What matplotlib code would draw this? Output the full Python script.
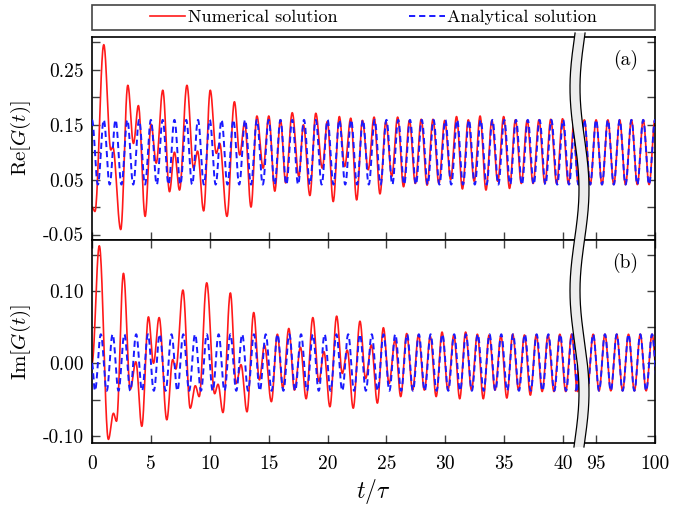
import numpy as np
import matplotlib
matplotlib.use("Agg")
import matplotlib.pyplot as plt
from matplotlib.lines import Line2D
from matplotlib.patches import Polygon, Rectangle

plt.rcParams["font.family"] = "serif"
plt.rcParams["font.serif"] = ["cmr10", "DejaVu Serif"]
plt.rcParams["mathtext.fontset"] = "cm"
plt.rcParams["axes.unicode_minus"] = False
plt.rcParams["axes.formatter.use_mathtext"] = True

# ---- data: extrema (t, value) of each curve ----
num_re_t = [0.0, 0.25, 1.0, 1.6, 1.76, 2.44, 3.04, 3.52, 3.94, 4.51, 5.02, 5.45,
            6.01, 6.58, 7.0, 7.43, 8.06, 8.62, 8.96, 9.48, 10.04, 10.55, 10.84,
            11.46, 12.09, 12.54, 12.96, 13.5, 14.0, 14.53, 15.01, 15.52, 16.0,
            16.45, 17.0, 17.56, 17.95, 18.5, 19.0, 19.55, 19.98, 20.48, 21.0,
            21.45, 21.97, 22.47, 22.96, 23.45, 23.95, 24.45, 24.95, 25.45, 25.95,
            26.45, 26.95, 27.45, 27.95, 28.45, 28.95, 29.45, 29.95, 30.45, 30.95,
            31.45, 31.95, 32.45, 32.95, 33.45, 33.95, 34.45, 34.95, 35.45, 35.95,
            36.45, 36.95, 37.45, 37.95, 38.45, 38.95, 39.45, 39.95, 40.45, 40.95,
            41.45, 41.95]
num_re_v = [0.000, -0.008, 0.296, 0.104, 0.110, -0.041, 0.222, 0.116, 0.185, -0.017,
            0.151, 0.080, 0.213, 0.028, 0.100, 0.031, 0.222, 0.071, 0.102, -0.007,
            0.213, 0.098, 0.116, -0.017, 0.192, 0.095, 0.154, 0.000, 0.166, 0.071,
            0.166, 0.029, 0.159, 0.044, 0.172, 0.056, 0.150, 0.021, 0.171, 0.071,
            0.156, 0.010, 0.165, 0.074, 0.162, 0.013, 0.158, 0.068, 0.164, 0.024,
            0.156, 0.056, 0.164, 0.037, 0.158, 0.043, 0.160, 0.040, 0.160, 0.043,
            0.158, 0.050, 0.165, 0.033, 0.159, 0.047, 0.166, 0.031, 0.158, 0.047,
            0.165, 0.034, 0.159, 0.043, 0.158, 0.043, 0.159, 0.043, 0.160, 0.043,
            0.161, 0.043, 0.159, 0.042, 0.159]

num_im_t = [0.0, 0.62, 1.39, 1.82, 2.08, 2.67, 3.25, 3.72, 4.23, 4.79, 5.22, 5.70,
            6.35, 6.85, 7.12, 7.72, 8.34, 8.77, 9.10, 9.74, 10.41, 10.70, 11.12,
            11.75, 12.24, 12.65, 13.16, 13.73, 14.21, 14.64, 15.23, 15.74, 16.20,
            16.71, 17.19, 17.70, 18.18, 18.75, 19.26, 19.69, 20.20, 20.77, 21.25,
            21.67, 22.18, 22.75, 23.23, 23.72, 24.23, 24.74, 25.22, 25.73, 26.21,
            26.72, 27.22, 27.72, 28.22, 28.72, 29.22, 29.72, 30.22, 30.72, 31.22,
            31.72, 32.22, 32.72, 33.22, 33.72, 34.22, 34.72, 35.22, 35.72, 36.22,
            36.72, 37.22, 37.72, 38.22, 38.72, 39.22, 39.72, 40.22, 40.72, 41.22,
            41.72]
num_im_v = [0.000, 0.162, -0.105, -0.069, -0.080, 0.124, -0.036, 0.002, -0.087, 0.064,
            0.000, 0.063, -0.078, 0.005, -0.008, 0.101, -0.062, -0.031, -0.046, 0.111,
            -0.042, -0.029, -0.068, 0.097, -0.028, -0.002, -0.067, 0.070, -0.023, 0.025,
            -0.053, 0.040, -0.034, 0.048, -0.037, 0.022, -0.049, 0.063, -0.025, 0.016,
            -0.060, 0.065, -0.014, 0.018, -0.062, 0.058, -0.021, 0.025, -0.055, 0.049,
            -0.028, 0.032, -0.046, 0.041, -0.037, 0.039, -0.037, 0.037, -0.046, 0.043,
            -0.037, 0.039, -0.049, 0.043, -0.037, 0.040, -0.049, 0.039, -0.037, 0.038,
            -0.048, 0.040, -0.037, 0.039, -0.044, 0.039, -0.039, 0.039, -0.039, 0.040,
            -0.039, 0.040, -0.039, 0.040]

# analytical solution: peak / trough levels, extrema every half period (period 1)
ana_re_hi, ana_re_lo = 0.159, 0.041
ana_im_hi, ana_im_lo = 0.040, -0.038
t_left_end = 42.0
t_right = (93.0, 100.5)

x_ticks_t = [0, 5, 10, 15, 20, 25, 30, 35, 40, 95, 100]
x_tick_labels = ["0", "5", "10", "15", "20", "25", "30", "35", "40", "95", "100"]
re_ticks = [-0.05, 0.0, 0.05, 0.10, 0.15, 0.20, 0.25, 0.30]
re_tick_labels = ["-0.05", "", "0.05", "", "0.15", "", "0.25", ""]
im_ticks = [-0.10, -0.05, 0.0, 0.05, 0.10, 0.15]
im_tick_labels = ["-0.10", "", "0.00", "", "0.10", ""]

SHIFT = 52.2     # t on the right part -> axis position
T_CUT = 41.6     # left part ends under the break band


def smooth(tk, vk, n=24):
    tk, vk = np.asarray(tk, float), np.asarray(vk, float)
    s = np.linspace(0, 1, n, endpoint=False)
    ts = (tk[:-1, None] + np.diff(tk)[:, None] * s).ravel()
    vs = (vk[:-1, None] + np.diff(vk)[:, None] * (1 - np.cos(np.pi * s)) / 2).ravel()
    return np.append(ts, tk[-1]), np.append(vs, vk[-1])


def ana_re(t0, t1):
    tk = np.arange(t0, t1 + 1e-9, 0.5)
    vk = np.where(np.isclose(tk % 1, 0), ana_re_hi, ana_re_lo)
    return smooth(tk, vk)


def ana_im(t0, t1):
    tk = np.arange(t0 + 0.25, t1 + 1e-9, 0.5)
    vk = np.where(np.isclose(tk % 1, 0.75), ana_im_hi, ana_im_lo)
    if t0 == 0:
        tk, vk = np.insert(tk, 0, 0.0), np.insert(vk, 0, 0.0)
    return smooth(tk, vk)


W, H = 685, 513


def px_box(l, t, r, b):
    return [l / W, 1 - b / H, (r - l) / W, (b - t) / H]


fig = plt.figure(figsize=(6.85, 5.13), dpi=100)
ax1 = fig.add_axes(px_box(92, 37, 655, 240))
ax2 = fig.add_axes(px_box(92, 240, 655, 443))

red = dict(color="#ff1a1a", lw=1.2, zorder=2)
blue = dict(color="#1a1aff", lw=1.4, dashes=(3.2, 2.0), zorder=3)

panels = [
    (ax1, (num_re_t, num_re_v), ana_re, re_ticks, re_tick_labels, (-0.06, 0.31),
     r"$\mathrm{Re}[G(t)]$", "(a)"),
    (ax2, (num_im_t, num_im_v), ana_im, im_ticks, im_tick_labels, (-0.11, 0.17),
     r"$\mathrm{Im}[G(t)]$", "(b)"),
]

for ax, (nt, nv), ana, yt, ytl, ylim, ylab, tag in panels:
    t, v = smooth(nt, nv)
    keep = t <= T_CUT
    ax.plot(t[keep], v[keep], **red)
    ta, va = ana(0, t_left_end)
    keep = ta <= T_CUT
    ax.plot(ta[keep], va[keep], **blue)
    # after the break the numerical result sits on the analytical one
    tr, vr = ana(*t_right)
    ax.plot(tr - SHIFT, vr, **red)
    ax.plot(tr - SHIFT, vr, **blue)

    ax.set_xlim(0, 100 - SHIFT)
    ax.set_ylim(*ylim)
    ax.set_xticks([x if x < 50 else x - SHIFT for x in x_ticks_t])
    ax.set_yticks(yt)
    ax.set_yticklabels(ytl)
    ax.tick_params(direction="in", length=6, width=1, color="0.25",
                   labelsize=14, right=True, pad=6)
    for sp in ax.spines.values():
        sp.set_linewidth(1.2)
    ax.set_ylabel(ylab, fontsize=15)
    ax.yaxis.set_label_coords(-0.104, 0.5)
    ax.text(0.947, 0.885, tag, transform=ax.transAxes, ha="center",
            va="center", fontsize=14)

ax1.tick_params(axis="x", top=False, labelbottom=False)
ax2.tick_params(axis="x", top=True, pad=9)
ax2.set_xticklabels(x_tick_labels)

fig.text(373.5 / W, 1 - 491 / H, r"$t/\tau$", ha="center", va="center",
         fontsize=17)

# wavy break band across both panels
yy = np.linspace(33, 447, 300)
left = 574.5 - 4.5 * np.sin(2 * np.pi * (yy - 37) / 203)
right = left + 10
band = Polygon(np.column_stack([np.r_[left, right[::-1]] / W,
                                1 - np.r_[yy, yy[::-1]] / H]),
               closed=True, transform=fig.transFigure, facecolor="#ededed",
               edgecolor="none", zorder=10)
fig.add_artist(band)
for edge in (left, right):
    fig.add_artist(Line2D(edge / W, 1 - yy / H, transform=fig.transFigure,
                          color="k", lw=0.9, zorder=11))

# legend box above the panels
fig.add_artist(Rectangle((92 / W, 1 - 30 / H), 563 / W, 25 / H,
                         transform=fig.transFigure, facecolor="white",
                         edgecolor="#444444", lw=1.2, zorder=1))
handles = [Line2D([], [], color="#ff1a1a", lw=1.2),
           Line2D([], [], color="#1a1aff", lw=1.4, dashes=(3.2, 2.0))]
fig.legend(handles, ["Numerical solution", "Analytical solution"],
           loc="center", bbox_to_anchor=(373.5 / W, 1 - 17.5 / H), ncol=2,
           frameon=False, fontsize=13, handlelength=1.95, handletextpad=0.15,
           columnspacing=4.0, borderpad=0)

fig.savefig("out.png", dpi=100)
